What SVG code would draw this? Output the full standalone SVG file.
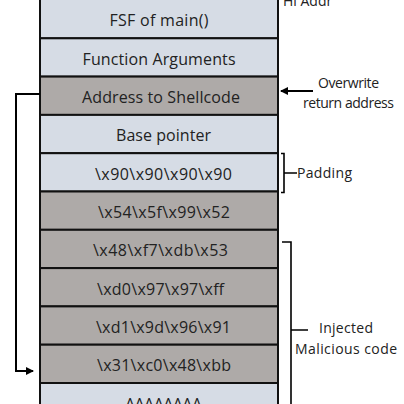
<svg xmlns="http://www.w3.org/2000/svg" width="404" height="404" viewBox="0 0 404 404">
<style>
.light{fill:#d6dce5;stroke:#111;stroke-width:2}
.dark{fill:#aeaaa8;stroke:#111;stroke-width:2}
.cell{font-family:"Open Sans","Liberation Sans",sans-serif;font-size:16px;fill:#222;text-anchor:middle}
.side{font-family:"Open Sans","Liberation Sans",sans-serif;font-size:14px;fill:#222}
.conn{fill:none;stroke:#000;stroke-width:2}
.brk{fill:none;stroke:#000;stroke-width:1.6}
</style>
<defs>
<marker id="ah" markerWidth="8" markerHeight="8" refX="7" refY="4" orient="auto" markerUnits="userSpaceOnUse">
<path d="M0,0 L8,4 L0,8 Z" fill="#000"/>
</marker>
</defs>
<rect width="404" height="404" fill="#fff"/>
<g id="n0"><rect class="light" x="40" y="-1" width="238" height="39.3"/><text class="cell" x="159" y="26" textLength="99">FSF of main()</text></g>
<g id="n1"><rect class="light" x="40" y="38.3" width="238" height="38.3"/><text class="cell" x="159" y="65" textLength="153">Function Arguments</text></g>
<g id="n2"><rect class="dark" x="40" y="76.6" width="238" height="38.3"/><text class="cell" x="161" y="103" textLength="158">Address to Shellcode</text></g>
<g id="n3"><rect class="light" x="40" y="114.9" width="238" height="38.3"/><text class="cell" x="163.5" y="141" textLength="95">Base pointer</text></g>
<g id="n4"><rect class="light" x="40" y="153.2" width="238" height="38.3"/><text class="cell" x="163.5" y="179.5" textLength="137">\x90\x90\x90\x90</text></g>
<g id="n5"><rect class="dark" x="40" y="191.5" width="238" height="38.3"/><text class="cell" x="164" y="218" textLength="132">\x54\x5f\x99\x52</text></g>
<g id="n6"><rect class="dark" x="40" y="229.8" width="238" height="38.3"/><text class="cell" x="160.5" y="256" textLength="135">\x48\xf7\xdb\x53</text></g>
<g id="n7"><rect class="dark" x="40" y="268.1" width="238" height="38.3"/><text class="cell" x="160.5" y="294.5" textLength="127">\xd0\x97\x97\xff</text></g>
<g id="n8"><rect class="dark" x="40" y="306.4" width="238" height="38.3"/><text class="cell" x="163.5" y="333" textLength="135">\xd1\x9d\x96\x91</text></g>
<g id="n9"><rect class="dark" x="40" y="344.7" width="238" height="38.3"/><text class="cell" x="164" y="371" textLength="134">\x31\xc0\x48\xbb</text></g>
<g id="n10"><rect class="light" x="40" y="383" width="238" height="38.3"/><text class="cell" x="163.5" y="410" textLength="77">AAAAAAAA</text></g>
<g id="labels">
<text class="side" x="283" y="6">Hi Addr</text>
<text class="side" x="348.5" y="88" text-anchor="middle" textLength="61">Overwrite</text>
<text class="side" x="348.5" y="108" text-anchor="middle" textLength="91">return address</text>
<text class="side" x="297" y="177.5" textLength="55">Padding</text>
<text class="side" x="319" y="332.5" textLength="54">Injected</text>
<text class="side" x="295" y="354" textLength="102">Malicious code</text>
</g>
<g id="connectors">
<path class="conn" d="M40,94 H16 V371 H33" marker-end="url(#ah)"/>
<path class="conn" d="M313,91 H281" marker-end="url(#ah)"/>
<path class="brk" d="M281,153.5 H284 V192.5 H281 M284,173 H297"/>
<path class="brk" d="M282,242 H291 V404 M291,330 H308"/>
</g>
</svg>
